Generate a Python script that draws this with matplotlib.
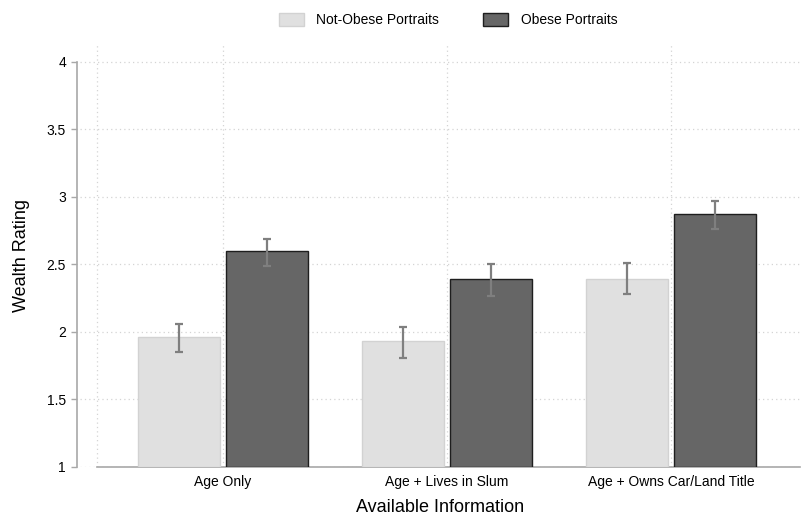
import numpy as np
import matplotlib.pyplot as plt
from matplotlib.patches import Patch

plt.rcParams['font.family'] = ['Liberation Sans', 'DejaVu Sans']

categories = ['Age Only', 'Age + Lives in Slum', 'Age + Owns Car/Land Title']
not_obese = [1.96, 1.93, 2.39]
not_obese_lo = [1.85, 1.81, 2.28]
not_obese_hi = [2.06, 2.04, 2.51]
obese = [2.60, 2.39, 2.87]
obese_lo = [2.49, 2.27, 2.76]
obese_hi = [2.69, 2.50, 2.97]
y_ticks = [1, 1.5, 2, 2.5, 3, 3.5, 4]
y_tick_labels = ['1', '1.5', '2', '2.5', '3', '3.5', '4']

light = '#e0e0e0'
dark = '#666666'
grid_col = '#d4d4d4'
axis_col = '#a8a8a8'

W, H = 808, 516
fig = plt.figure(figsize=(W / 100, H / 100), dpi=100)
ax = fig.add_axes([80 / W, 49 / H, 720 / W, 424 / H])

x = np.arange(len(categories))
width = 0.366
off = 0.196

ax.bar(x - off, np.array(not_obese) - 1, width, bottom=1, color=light,
       edgecolor='#d2d2d2', linewidth=1, zorder=3)
ax.bar(x + off, np.array(obese) - 1, width, bottom=1, color=dark,
       edgecolor='#1e1e1e', linewidth=1, zorder=3)

for xs, v, lo, hi in [(x - off, not_obese, not_obese_lo, not_obese_hi),
                      (x + off, obese, obese_lo, obese_hi)]:
    err = [np.array(v) - np.array(lo), np.array(hi) - np.array(v)]
    ax.errorbar(xs, v, yerr=err, fmt='none', ecolor='#7f7f7f', elinewidth=1.6,
                capsize=3, capthick=1.6, zorder=4)

ax.set_xlim(-0.638, 2.576)
ax.set_ylim(1, 4.14)

# grid
for yv in y_ticks:
    ax.axhline(yv, color=grid_col, lw=0.9, ls=(0, (1, 2.5)), zorder=1)
for xv in [-0.5625, 0, 1, 2]:
    ax.axvline(xv, color=grid_col, lw=0.9, ls=(0, (1, 2.5)), zorder=1)

for s in ['top', 'right']:
    ax.spines[s].set_visible(False)
ax.spines['left'].set_position(('outward', 2))
ax.spines['left'].set_bounds(1, 4)
ax.spines['left'].set_color(axis_col)
ax.spines['left'].set_linewidth(1.2)
ax.spines['bottom'].set_bounds(-0.5625, 2.576)
ax.spines['bottom'].set_color(axis_col)
ax.spines['bottom'].set_linewidth(1.2)

ax.set_yticks(y_ticks)
ax.set_yticklabels(y_tick_labels)
ax.set_xticks(x)
ax.set_xticklabels(categories)
ax.tick_params(axis='y', length=4, width=1, color=axis_col, labelsize=10, pad=4)
ax.tick_params(axis='x', length=0, labelsize=10, pad=6)

ax.set_ylabel('Wealth Rating', fontsize=13, labelpad=12)
ax.set_xlabel('Available Information', fontsize=13, labelpad=7)

handles = [Patch(facecolor=light, edgecolor='#d2d2d2', label='Not-Obese Portraits'),
           Patch(facecolor=dark, edgecolor='#1e1e1e', label='Obese Portraits')]
fig.legend(handles=handles, loc='center', bbox_to_anchor=(448 / W, 1 - 20 / H),
           ncol=2, frameon=False, fontsize=10, handlelength=1.8, handleheight=1.1,
           columnspacing=3.2, handletextpad=0.9)

fig.savefig('out.png', dpi=100)
